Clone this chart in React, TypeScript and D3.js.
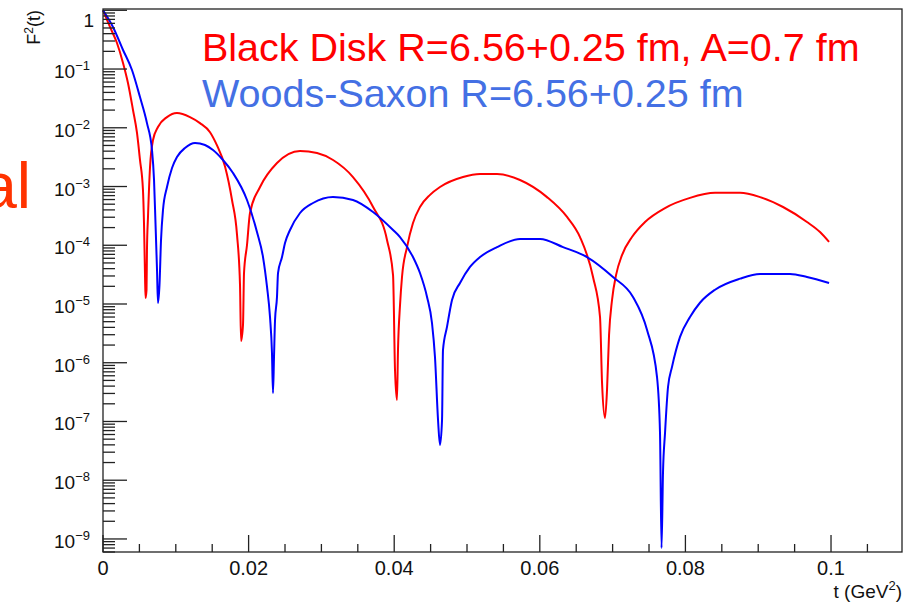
import React from "react";
import * as d3 from "d3";

// Black Disk R=6.56+0.25 fm, A=0.7 fm
const blackDiskT = [
  0, 0.00096, 0.00192, 0.00275, 0.00343, 0.00412, 0.00467, 0.00508, 0.00549, 0.00563,
  0.00577, 0.00584, 0.00598, 0.00604, 0.00618, 0.00646, 0.00687, 0.00755, 0.00879, 0.01016,
  0.01195, 0.01332, 0.0147, 0.01566, 0.01676, 0.01772, 0.01841, 0.01882, 0.01896, 0.01923,
  0.01937, 0.01978, 0.02019, 0.02157, 0.0239, 0.02706, 0.0294, 0.0316, 0.03434, 0.0371,
  0.03901, 0.03984, 0.04011, 0.04038, 0.04052, 0.0408, 0.04107, 0.04176, 0.04258, 0.04354,
  0.04492, 0.04629, 0.04945, 0.05179, 0.05412, 0.05728, 0.06099, 0.06374, 0.06552, 0.06731,
  0.06827, 0.06855, 0.06896, 0.06923, 0.06951, 0.06992, 0.07047, 0.07129, 0.07266, 0.07445,
  0.0772, 0.08063, 0.08407, 0.0875, 0.09025, 0.09341, 0.0967, 0.09849, 0.09973,
];
const blackDiskF2 = [
  1, 0.52, 0.277, 0.127, 0.0578, 0.0201, 8.15e-3, 2.83e-3, 8.7e-4, 2.39e-4,
  3.1e-5, 1.26e-5, 1.73e-5, 8.3e-5, 3.03e-4, 2.15e-3, 6.19e-3, 1.03e-2, 1.52e-2, 1.78e-2,
  1.52e-2, 1.2e-2, 8.4e-3, 5.0e-3, 2.2e-3, 5.9e-4, 1.5e-4, 2.1e-5, 2.34e-6, 4.4e-6,
  3.37e-5, 1.01e-4, 3.54e-4, 9.8e-4, 2.51e-3, 4.03e-3, 3.72e-3, 2.83e-3, 1.45e-3, 4.48e-4,
  1.23e-4, 3.1e-5, 7.5e-7, 2.32e-7, 1.65e-6, 9.6e-6, 2.88e-5, 9.3e-5, 2.39e-4, 4.48e-4,
  7.2e-4, 9.8e-4, 1.45e-3, 1.63e-3, 1.63e-3, 1.29e-3, 6.6e-4, 3.03e-4, 1.38e-4, 2.88e-5,
  6.0e-6, 4.5e-7, 1.15e-7, 3.4e-7, 2.96e-6, 1.17e-5, 3.1e-5, 6.8e-5, 1.38e-4, 2.49e-4,
  4.3e-4, 6.4e-4, 7.8e-4, 7.8e-4, 6.6e-4, 4.48e-4, 2.49e-4, 1.68e-4, 1.14e-4,
];

// Woods-Saxon R=6.56+0.25 fm
const woodsSaxonT = [
  0, 0.00137, 0.00275, 0.00398, 0.00508, 0.00604, 0.00673, 0.00701, 0.00721, 0.00742,
  0.00755, 0.00776, 0.00797, 0.00824, 0.00879, 0.00948, 0.01016, 0.01126, 0.01264, 0.01401,
  0.01511, 0.01648, 0.01786, 0.01978, 0.02115, 0.02198, 0.02253, 0.02294, 0.02321, 0.02335,
  0.02349, 0.02363, 0.0239, 0.02404, 0.02459, 0.025, 0.02569, 0.02706, 0.02885, 0.03159,
  0.03434, 0.03709, 0.03984, 0.0408, 0.04258, 0.04354, 0.04451, 0.04519, 0.0456, 0.04602,
  0.04629, 0.04657, 0.0467, 0.04725, 0.04794, 0.04904, 0.05041, 0.05179, 0.05412, 0.05728,
  0.06003, 0.06319, 0.06648, 0.07005, 0.0728, 0.07473, 0.0761, 0.07651, 0.07672, 0.07692,
  0.0772, 0.07761, 0.07816, 0.07926, 0.08063, 0.082, 0.08407, 0.0875, 0.09025, 0.09437,
  0.0967, 0.09973,
];
const woodsSaxonF2 = [
  1, 0.52, 0.211, 0.0963, 0.0333, 0.012, 4.18e-3, 1.29e-3, 2.39e-4, 3.8e-5,
  1.04e-5, 2.11e-5, 1.23e-4, 3.98e-4, 9.8e-4, 2.07e-3, 3.18e-3, 4.53e-3, 5.51e-3, 5.09e-3,
  4.18e-3, 2.83e-3, 1.7e-3, 5.9e-4, 1.68e-4, 6.3e-5, 1.95e-5, 6.0e-6, 1.47e-6, 3.05e-7,
  1.26e-6, 5.3e-6, 1.32e-5, 3.37e-5, 6.3e-5, 1.09e-4, 1.82e-4, 3.54e-4, 5.24e-4, 6.64e-4,
  5.9e-4, 3.69e-4, 1.82e-4, 1.38e-4, 6.3e-5, 3.37e-5, 1.32e-5, 4.75e-6, 1.25e-6, 1.06e-7,
  3.98e-8, 1.06e-7, 1.65e-6, 4.07e-6, 1.17e-5, 2.28e-5, 4.27e-5, 6.3e-5, 9.3e-5, 1.28e-4,
  1.28e-4, 9.3e-5, 6.3e-5, 2.88e-5, 1.32e-5, 3.6e-6, 5.7e-7, 6.4e-8, 7.0e-10, 1.33e-8,
  6.4e-8, 3.86e-7, 8.5e-7, 2.75e-6, 6.0e-6, 1.05e-5, 1.75e-5, 2.7e-5, 3.24e-5, 3.24e-5,
  2.88e-5, 2.28e-5,
];

const xMajorTicks = [0, 0.02, 0.04, 0.06, 0.08, 0.1];
const xTickLabels = ["0", "0.02", "0.04", "0.06", "0.08", "0.1"];
const yDecadeExponents = [0, -1, -2, -3, -4, -5, -6, -7, -8, -9];
const legendLabels = ["Black Disk R=6.56+0.25 fm, A=0.7 fm", "Woods-Saxon R=6.56+0.25 fm"];
const xTitle = "t (GeV";
const yTitle = "F";
const sideText = "al";

const FONT = "'Liberation Sans', Arial, Helvetica, sans-serif";

export default function App() {
  const left = 103, right = 902, top = 9, bottom = 552;
  const x = d3.scaleLinear().domain([0, 0.10975]).range([left, right]);
  const y = d3.scaleLog().domain([Math.pow(10, -9.222), Math.pow(10, 0.022)]).range([bottom, top]);

  const line = d3
    .line<[number, number]>()
    .x((d) => x(d[0]))
    .y((d) => y(d[1]))
    .curve(d3.curveMonotoneX);

  const redPts: [number, number][] = blackDiskT.map((t, i) => [t, blackDiskF2[i]]);
  const bluePts: [number, number][] = woodsSaxonT.map((t, i) => [t, woodsSaxonF2[i]]);

  const [yMin, yMax] = y.domain();
  const yMinor: number[] = [];
  for (let d = -10; d <= 0; d++) {
    for (let k = 2; k <= 9; k++) {
      const v = k * Math.pow(10, d);
      if (v >= yMin && v <= yMax) yMinor.push(v);
    }
  }
  const xMinor: number[] = [];
  for (let i = 1; i * 0.005 <= 0.1097; i++) {
    const v = +(i * 0.005).toFixed(3);
    if (!xMajorTicks.some((m) => Math.abs(m - v) < 1e-9)) xMinor.push(v);
  }

  const axisColor = "#222";

  return (
    <svg
      width={906}
      height={604}
      style={{ position: "absolute", left: 0, top: 0, background: "#fff" }}
      fontFamily={FONT}
    >
      <rect x={0} y={0} width={906} height={604} fill="#fff" />
      {/* curves */}
      <path d={line(redPts) || ""} fill="none" stroke="#ff0000" strokeWidth={2} strokeLinejoin="round" />
      <path d={line(bluePts) || ""} fill="none" stroke="#0000ff" strokeWidth={2} strokeLinejoin="round" />

      {/* frame */}
      <rect x={left} y={top} width={right - left} height={bottom - top} fill="none" stroke={axisColor} strokeWidth={1.3} />

      {/* x ticks */}
      {xMajorTicks.map((v) => (
        <line key={"xM" + v} x1={x(v)} x2={x(v)} y1={bottom} y2={bottom - 17} stroke={axisColor} strokeWidth={1.3} />
      ))}
      {xMinor.map((v) => (
        <line key={"xm" + v} x1={x(v)} x2={x(v)} y1={bottom} y2={bottom - 8} stroke={axisColor} strokeWidth={1.3} />
      ))}
      {xMajorTicks.map((v, i) => (
        <text key={"xl" + v} x={x(v)} y={575} fontSize={20} textAnchor="middle" fill="#111">
          {xTickLabels[i]}
        </text>
      ))}
      <text x={902} y={598} fontSize={19} textAnchor="end" fill="#111">
        {xTitle}
        <tspan dy={-8} fontSize={13}>2</tspan>
        <tspan dy={8}>)</tspan>
      </text>

      {/* y ticks */}
      {yDecadeExponents.map((e) => (
        <line key={"yM" + e} x1={left} x2={left + 24} y1={y(Math.pow(10, e))} y2={y(Math.pow(10, e))} stroke={axisColor} strokeWidth={1.3} />
      ))}
      {yMinor.map((v, i) => (
        <line key={"ym" + i} x1={left} x2={left + 12} y1={y(v)} y2={y(v)} stroke={axisColor} strokeWidth={1.3} />
      ))}
      {yDecadeExponents.map((e) =>
        e === 0 ? (
          <text key={"yl" + e} x={94} y={y(1) + 17} fontSize={19} textAnchor="end" fill="#111">
            1
          </text>
        ) : (
          <text key={"yl" + e} x={90} y={y(Math.pow(10, e)) + 9} fontSize={19} textAnchor="end" fill="#111">
            10
            <tspan dy={-8} fontSize={13}>{"\u2212" + Math.abs(e)}</tspan>
          </text>
        )
      )}
      <text transform={`translate(40, ${top + 1}) rotate(-90)`} fontSize={18} textAnchor="end" fill="#111">
        {yTitle}
        <tspan dy={-7} fontSize={12}>2</tspan>
        <tspan dy={7}>(t)</tspan>
      </text>

      {/* legend texts */}
      <text x={202} y={61} fontSize={39.5} fill="#ff0000">
        {legendLabels[0]}
      </text>
      <text x={202} y={107} fontSize={39.5} fill="#4470e4">
        {legendLabels[1]}
      </text>

      {/* clipped slide text */}
      <text x={31} y={208} fontSize={64} textAnchor="end" fill="#ff3300">
        {sideText}
      </text>
    </svg>
  );
}
